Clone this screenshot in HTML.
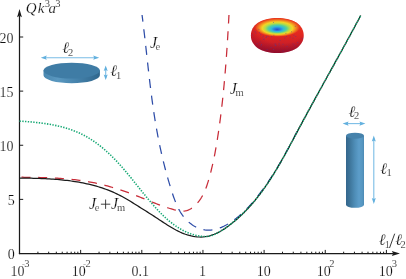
<!DOCTYPE html>
<html><head><meta charset="utf-8">
<style>
html,body{margin:0;padding:0;background:#fff;}
body{width:406px;height:279px;overflow:hidden;}
svg{display:block;will-change:transform;}
text{font-family:"Liberation Serif",serif;fill:#111;stroke:#fff;stroke-width:0.16px;}
.i{font-style:italic;}
.s{font-size:10.5px;}
</style></head><body>
<svg width="406" height="279" viewBox="0 0 406 279">
<defs><filter id="idf" filterUnits="userSpaceOnUse" x="0" y="0" width="406" height="279"><feOffset dx="0" dy="0"/></filter>
<linearGradient id="cyl" x1="0" x2="1" y1="0" y2="0">
<stop offset="0" stop-color="#33658c"/><stop offset="0.2" stop-color="#3d7499"/><stop offset="0.5" stop-color="#4f8eb8"/><stop offset="0.72" stop-color="#5c9dc9"/><stop offset="0.9" stop-color="#5797c2"/><stop offset="1" stop-color="#4c8ab4"/>
</linearGradient>
<linearGradient id="dsk" x1="0" x2="1" y1="0" y2="0">
<stop offset="0" stop-color="#4a88b0"/><stop offset="0.25" stop-color="#5a98c0"/><stop offset="0.6" stop-color="#4582ab"/><stop offset="1" stop-color="#2f668c"/>
</linearGradient>
<radialGradient id="tor" cx="0.5" cy="0.5" r="0.5" fx="0.49" fy="0.62">
<stop offset="0" stop-color="#2a4ec4"/><stop offset="0.12" stop-color="#2a78dc"/><stop offset="0.26" stop-color="#30b8dc"/><stop offset="0.4" stop-color="#58d098"/><stop offset="0.53" stop-color="#b4dc48"/><stop offset="0.66" stop-color="#f4d424"/><stop offset="0.8" stop-color="#f28a20"/><stop offset="0.92" stop-color="#ea4a1e"/><stop offset="1" stop-color="#e6301f" stop-opacity="0"/>
</radialGradient>
<linearGradient id="torb" x1="0" x2="0" y1="0" y2="1">
<stop offset="0" stop-color="#ea3a1e"/><stop offset="0.45" stop-color="#e32820"/><stop offset="0.7" stop-color="#cf2026"/><stop offset="0.9" stop-color="#b01a2a"/><stop offset="1" stop-color="#9c162a"/>
</linearGradient>
<radialGradient id="tors" cx="0.58" cy="0.3" r="0.78">
<stop offset="0.55" stop-color="#800030" stop-opacity="0"/><stop offset="1" stop-color="#800030" stop-opacity="0.55"/>
</radialGradient>
</defs>
<rect width="406" height="279" fill="#fff"/>
<!-- axes -->
<path d="M19.5 254.1 V16" stroke="#1a1a1a" stroke-width="1.25" fill="none"/>
<path d="M18.9 253.5 H393" stroke="#1a1a1a" stroke-width="1.25" fill="none"/>
<path d="M19.5 9 l2.4 8.3 l-2.4 -1.5 l-2.4 1.5 z" fill="#1a1a1a"/>
<path d="M400 253.5 l-8.2 -2.4 l1.4 2.4 l-1.4 2.4 z" fill="#1a1a1a"/>
<path d="M37.91 253.5 v-1.8 M48.68 253.5 v-1.8 M56.32 253.5 v-1.8 M62.24 253.5 v-1.8 M67.08 253.5 v-1.8 M71.18 253.5 v-1.8 M74.72 253.5 v-1.8 M77.85 253.5 v-1.8 M99.06 253.5 v-1.8 M109.83 253.5 v-1.8 M117.47 253.5 v-1.8 M123.39 253.5 v-1.8 M128.23 253.5 v-1.8 M132.33 253.5 v-1.8 M135.87 253.5 v-1.8 M139.00 253.5 v-1.8 M160.21 253.5 v-1.8 M170.98 253.5 v-1.8 M178.62 253.5 v-1.8 M184.54 253.5 v-1.8 M189.38 253.5 v-1.8 M193.48 253.5 v-1.8 M197.02 253.5 v-1.8 M200.15 253.5 v-1.8 M221.36 253.5 v-1.8 M232.13 253.5 v-1.8 M239.77 253.5 v-1.8 M245.69 253.5 v-1.8 M250.53 253.5 v-1.8 M254.63 253.5 v-1.8 M258.17 253.5 v-1.8 M261.30 253.5 v-1.8 M282.51 253.5 v-1.8 M293.28 253.5 v-1.8 M300.92 253.5 v-1.8 M306.84 253.5 v-1.8 M311.68 253.5 v-1.8 M315.78 253.5 v-1.8 M319.32 253.5 v-1.8 M322.45 253.5 v-1.8 M343.66 253.5 v-1.8 M354.43 253.5 v-1.8 M362.07 253.5 v-1.8 M367.99 253.5 v-1.8 M372.83 253.5 v-1.8 M376.93 253.5 v-1.8 M380.47 253.5 v-1.8 M383.60 253.5 v-1.8 M80.65 253.5 v-3.6 M141.80 253.5 v-3.6 M202.95 253.5 v-3.6 M264.10 253.5 v-3.6 M325.25 253.5 v-3.6 M386.40 253.5 v-3.6 M19.5 199.38 h3.7 M19.5 145.25 h3.7 M19.5 91.12 h3.7 M19.5 37.00 h3.7" stroke="#1a1a1a" stroke-width="1" fill="none"/>
<!-- curves -->
<path d="M142.06 14.98 L142.26 16.55 L142.46 18.11 L142.65 19.67 L142.85 21.24 L143.04 22.80 L143.23 24.36 L143.41 25.92 L143.60 27.48 L143.79 29.04 L143.97 30.60 L144.15 32.16 L144.34 33.72 L144.52 35.28 L144.70 36.84 L144.87 38.40 L145.05 39.96 L145.23 41.52 L145.41 43.08 L145.58 44.64 L145.76 46.20 L145.93 47.76 L146.11 49.32 L146.28 50.88 L146.45 52.44 L146.63 54.01 L146.80 55.57 L146.97 57.13 L147.15 58.69 L147.32 60.25 L147.49 61.82 L147.67 63.38 L147.84 64.94 L148.02 66.50 L148.19 68.07 L148.37 69.63 L148.55 71.19 L148.72 72.76 L148.90 74.32 L149.08 75.89 L149.27 77.45 L149.45 79.01 L149.63 80.58 L149.82 82.14 L150.00 83.70 L150.19 85.27 L150.38 86.83 L150.58 88.39 L150.77 89.95 L150.97 91.52 L151.17 93.08 L151.37 94.64 L151.57 96.20 L151.77 97.76 L151.98 99.32 L152.19 100.88 L152.41 102.44 L152.62 104.00 L152.84 105.56 L153.06 107.12 L153.29 108.67 L153.52 110.23 L153.75 111.79 L153.98 113.34 L154.22 114.90 L154.46 116.45 L154.71 118.01 L154.96 119.56 L155.21 121.11 L155.47 122.66 L155.73 124.21 L155.99 125.76 L156.26 127.31 L156.53 128.85 L156.81 130.40 L157.09 131.95 L157.38 133.49 L157.67 135.04 L157.96 136.58 L158.26 138.12 L158.56 139.66 L158.87 141.20 L159.18 142.74 L159.49 144.28 L159.82 145.82 L160.14 147.35 L160.47 148.89 L160.81 150.42 L161.14 151.96 L161.49 153.49 L161.84 155.02 L162.19 156.55 L162.55 158.08 L162.92 159.61 L163.28 161.13 L163.66 162.66 L164.04 164.18 L164.42 165.71 L164.81 167.23 L165.21 168.75 L165.61 170.27 L166.01 171.79 L166.43 173.31 L166.84 174.83 L167.26 176.34 L167.69 177.86 L168.13 179.37 L168.56 180.88 L169.01 182.39 L169.46 183.90 L169.92 185.41 L170.38 186.92 L170.85 188.43 L171.32 189.93 L171.80 191.43 L172.29 192.94 L172.78 194.44 L173.28 195.93 L173.80 197.43 L174.33 198.91 L174.88 200.39 L175.45 201.85 L176.04 203.31 L176.65 204.75 L177.30 206.18 L177.97 207.59 L178.68 208.99 L179.43 210.36 L180.21 211.71 L181.03 213.05 L181.90 214.35 L182.81 215.63 L183.77 216.89 L184.78 218.11 L185.84 219.30 L186.94 220.45 L188.09 221.55 L189.28 222.60 L190.51 223.61 L191.79 224.55 L193.10 225.43 L194.45 226.25 L195.84 227.00 L197.26 227.67 L198.71 228.26 L200.19 228.78 L201.69 229.22 L203.21 229.58 L204.74 229.86 L206.28 230.05 L207.83 230.16 L209.37 230.17 L210.91 230.10 L212.45 229.94 L213.97 229.69 L215.49 229.36 L216.99 228.95 L218.48 228.48 L219.96 227.94 L221.42 227.34 L222.86 226.69 L224.29 226.00 L225.70 225.26 L227.09 224.49 L228.45 223.69 L229.80 222.86 L231.13 222.01 L232.44 221.12 L233.73 220.22 L235.00 219.29 L236.25 218.34 L237.48 217.36 L238.70 216.36 L239.89 215.35 L241.08 214.31 L242.24 213.25 L243.39 212.18 L244.53 211.09 L245.65 209.98 L246.75 208.86 L247.85 207.72 L248.92 206.57 L249.99 205.41 L251.04 204.23 L252.08 203.04 L253.11 201.85 L254.13 200.64 L255.14 199.42 L256.13 198.20 L257.12 196.97 L258.10 195.73 L259.07 194.49 L260.02 193.24 L260.98 191.99 L261.92 190.73 L262.85 189.46 L263.78 188.20 L264.69 186.92 L265.60 185.64 L266.50 184.36 L267.40 183.07 L268.28 181.77 L269.16 180.47 L270.03 179.17 L270.90 177.86 L271.75 176.55 L272.60 175.23 L273.45 173.91 L274.28 172.58 L275.12 171.25 L275.94 169.92 L276.76 168.58 L277.57 167.24 L278.38 165.90 L279.18 164.55 L279.98 163.19 L280.77 161.84 L281.56 160.48 L282.34 159.12 L283.12 157.75 L283.90 156.39 L284.66 155.02 L285.43 153.64 L286.19 152.27 L286.95 150.89 L287.70 149.51 L288.45 148.12 L289.20 146.74 L289.94 145.35 L290.68 143.96 L291.42 142.57 L292.15 141.17 L292.89 139.78 L293.62 138.38 L294.34 136.98 L295.07 135.58 L295.79 134.17 L296.52 132.77 L297.24 131.36 L297.96 129.96" stroke="#2e4da8" stroke-width="1.25" stroke-dasharray="9 7.7" stroke-dashoffset="2.3" fill="none"/>
<path d="M19.50 177.21 L21.08 177.22 L22.66 177.24 L24.24 177.26 L25.82 177.27 L27.40 177.29 L28.98 177.31 L30.56 177.33 L32.14 177.36 L33.73 177.38 L35.31 177.41 L36.89 177.44 L38.47 177.48 L40.06 177.51 L41.64 177.55 L43.22 177.60 L44.81 177.65 L46.39 177.70 L47.97 177.76 L49.55 177.82 L51.14 177.89 L52.72 177.96 L54.30 178.04 L55.88 178.12 L57.46 178.21 L59.04 178.31 L60.62 178.41 L62.19 178.53 L63.77 178.64 L65.35 178.77 L66.92 178.90 L68.50 179.05 L70.07 179.20 L71.64 179.36 L73.21 179.52 L74.78 179.70 L76.35 179.89 L77.92 180.09 L79.48 180.29 L81.05 180.51 L82.61 180.74 L84.17 180.98 L85.73 181.23 L87.29 181.49 L88.84 181.76 L90.39 182.05 L91.95 182.34 L93.50 182.65 L95.04 182.97 L96.59 183.30 L98.13 183.65 L99.67 184.00 L101.21 184.37 L102.75 184.74 L104.28 185.13 L105.82 185.53 L107.35 185.94 L108.87 186.36 L110.40 186.79 L111.92 187.23 L113.44 187.67 L114.96 188.13 L116.47 188.60 L117.98 189.08 L119.49 189.56 L120.99 190.06 L122.50 190.56 L124.00 191.08 L125.49 191.60 L126.98 192.13 L128.47 192.66 L129.96 193.21 L131.44 193.76 L132.92 194.32 L134.40 194.89 L135.87 195.46 L137.34 196.05 L138.81 196.63 L140.27 197.22 L141.74 197.82 L143.20 198.42 L144.66 199.01 L146.12 199.61 L147.59 200.21 L149.05 200.81 L150.52 201.41 L151.98 202.00 L153.45 202.58 L154.92 203.17 L156.40 203.74 L157.88 204.31 L159.36 204.87 L160.85 205.43 L162.34 205.97 L163.84 206.50 L165.34 207.02 L166.85 207.53 L168.37 208.02 L169.89 208.50 L171.43 208.96 L172.97 209.40 L174.52 209.83 L176.07 210.21 L177.63 210.54 L179.17 210.81 L180.71 210.99 L182.24 211.08 L183.75 211.06 L185.24 210.90 L186.70 210.61 L188.14 210.16 L189.54 209.55 L190.90 208.79 L192.22 207.90 L193.49 206.92 L194.71 205.86 L195.86 204.75 L196.95 203.60 L197.99 202.41 L198.97 201.18 L199.89 199.91 L200.77 198.61 L201.60 197.27 L202.38 195.90 L203.12 194.51 L203.82 193.09 L204.49 191.65 L205.11 190.19 L205.71 188.71 L206.28 187.21 L206.82 185.70 L207.33 184.17 L207.82 182.64 L208.30 181.10 L208.75 179.55 L209.19 178.01 L209.62 176.46 L210.04 174.91 L210.45 173.36 L210.85 171.81 L211.24 170.27 L211.61 168.72 L211.98 167.17 L212.34 165.63 L212.70 164.08 L213.04 162.53 L213.37 160.99 L213.70 159.44 L214.02 157.90 L214.33 156.35 L214.64 154.80 L214.94 153.26 L215.23 151.71 L215.51 150.16 L215.79 148.61 L216.07 147.06 L216.34 145.51 L216.60 143.96 L216.86 142.41 L217.11 140.86 L217.36 139.31 L217.60 137.76 L217.84 136.20 L218.08 134.65 L218.32 133.09 L218.55 131.53 L218.77 129.97 L219.00 128.42 L219.22 126.85 L219.44 125.29 L219.65 123.73 L219.86 122.17 L220.07 120.60 L220.28 119.04 L220.48 117.47 L220.68 115.91 L220.88 114.34 L221.07 112.77 L221.26 111.20 L221.45 109.63 L221.64 108.06 L221.82 106.49 L222.00 104.92 L222.18 103.35 L222.35 101.77 L222.52 100.20 L222.69 98.62 L222.86 97.05 L223.03 95.47 L223.19 93.90 L223.35 92.32 L223.51 90.75 L223.66 89.17 L223.82 87.59 L223.97 86.01 L224.12 84.44 L224.26 82.86 L224.41 81.28 L224.55 79.70 L224.69 78.12 L224.83 76.54 L224.96 74.96 L225.10 73.38 L225.23 71.80 L225.36 70.22 L225.49 68.64 L225.61 67.06 L225.74 65.48 L225.86 63.90 L225.98 62.32 L226.10 60.74 L226.22 59.16 L226.33 57.58 L226.45 56.00 L226.56 54.42 L226.67 52.84 L226.78 51.26 L226.89 49.68 L227.00 48.10 L227.10 46.52 L227.21 44.94 L227.31 43.36 L227.41 41.78 L227.51 40.21 L227.61 38.63 L227.71 37.05 L227.80 35.47 L227.90 33.90 L227.99 32.32 L228.09 30.75 L228.18 29.17 L228.27 27.60 L228.36 26.02 L228.45 24.45 L228.54 22.88 L228.63 21.31 L228.71 19.73 L228.80 18.16 L228.88 16.59 L228.97 15.02" stroke="#c82c38" stroke-width="1.25" stroke-dasharray="9 7.7" stroke-dashoffset="-2" fill="none"/>
<path d="M19.54 178.03 L21.50 178.06 L23.46 178.09 L25.43 178.12 L27.41 178.15 L29.38 178.19 L31.36 178.23 L33.34 178.28 L35.33 178.33 L37.32 178.39 L39.30 178.46 L41.30 178.53 L43.29 178.62 L45.28 178.71 L47.28 178.81 L49.27 178.92 L51.26 179.05 L53.26 179.18 L55.25 179.33 L57.25 179.49 L59.24 179.66 L61.23 179.84 L63.21 180.04 L65.20 180.26 L67.18 180.49 L69.16 180.73 L71.14 181.00 L73.11 181.28 L75.08 181.57 L77.05 181.89 L79.01 182.22 L80.97 182.58 L82.92 182.95 L84.86 183.35 L86.80 183.77 L88.73 184.21 L90.66 184.67 L92.58 185.15 L94.49 185.66 L96.40 186.19 L98.29 186.75 L100.18 187.34 L102.06 187.95 L103.94 188.58 L105.80 189.25 L107.65 189.94 L109.49 190.66 L111.33 191.41 L113.15 192.19 L114.96 192.99 L116.76 193.84 L118.55 194.71 L120.33 195.61 L122.10 196.54 L123.85 197.51 L125.60 198.49 L127.33 199.50 L129.06 200.52 L130.77 201.56 L132.48 202.61 L134.18 203.67 L135.88 204.73 L137.56 205.79 L139.24 206.86 L140.92 207.91 L142.59 208.97 L144.26 210.01 L145.93 211.06 L147.59 212.11 L149.25 213.16 L150.91 214.22 L152.57 215.28 L154.23 216.35 L155.89 217.44 L157.56 218.54 L159.23 219.65 L160.90 220.76 L162.58 221.87 L164.26 222.98 L165.95 224.08 L167.66 225.17 L169.37 226.23 L171.10 227.28 L172.84 228.29 L174.59 229.28 L176.36 230.23 L178.14 231.13 L179.95 231.99 L181.77 232.80 L183.62 233.55 L185.48 234.25 L187.37 234.87 L189.29 235.43 L191.22 235.92 L193.18 236.32 L195.14 236.64 L197.11 236.87 L199.07 237.00 L201.03 237.02 L202.97 236.94 L204.90 236.74 L206.81 236.44 L208.69 236.03 L210.56 235.52 L212.40 234.92 L214.22 234.23 L216.03 233.46 L217.81 232.62 L219.57 231.71 L221.30 230.73 L223.02 229.70 L224.71 228.61 L226.39 227.47 L228.04 226.30 L229.66 225.09 L231.27 223.85 L232.85 222.59 L234.41 221.30 L235.94 220.00 L237.45 218.68 L238.95 217.34 L240.42 215.98 L241.87 214.61 L243.29 213.22 L244.70 211.81 L246.09 210.39 L247.46 208.95 L248.81 207.49 L250.14 206.02 L251.46 204.54 L252.75 203.04 L254.03 201.53 L255.30 200.00 L256.54 198.47 L257.77 196.92 L258.99 195.35 L260.18 193.78 L261.37 192.20 L262.54 190.60 L263.69 189.00 L264.84 187.38 L265.97 185.76 L267.08 184.12 L268.19 182.48 L269.28 180.83 L270.36 179.17 L271.43 177.50 L272.49 175.82 L273.54 174.14 L274.58 172.45 L275.62 170.75 L276.64 169.04 L277.65 167.33 L278.66 165.62 L279.66 163.90 L280.65 162.17 L281.63 160.44 L282.61 158.71 L283.59 156.97 L284.55 155.23 L285.52 153.48 L286.48 151.73 L287.43 149.98 L288.38 148.22 L289.33 146.47 L290.28 144.71 L291.22 142.95 L292.16 141.19 L293.10 139.43 L294.04 137.67 L294.98 135.91 L295.91 134.14 L296.85 132.38 L297.79 130.62 L298.73 128.86 L299.67 127.11 L300.62 125.35 L301.56 123.60 L302.51 121.84 L303.45 120.09 L304.40 118.34 L305.35 116.59 L306.30 114.84 L307.25 113.09 L308.20 111.35 L309.15 109.60 L310.10 107.86 L311.06 106.11 L312.01 104.37 L312.97 102.62 L313.92 100.88 L314.88 99.14 L315.84 97.40 L316.80 95.66 L317.75 93.92 L318.71 92.18 L319.67 90.44 L320.63 88.70 L321.59 86.96 L322.55 85.23 L323.51 83.49 L324.47 81.75 L325.43 80.01 L326.40 78.28 L327.36 76.54 L328.32 74.80 L329.28 73.07 L330.24 71.33 L331.20 69.59 L332.16 67.85 L333.12 66.12 L334.08 64.38 L335.04 62.64 L336.00 60.90 L336.96 59.16 L337.92 57.42 L338.88 55.69 L339.84 53.95 L340.80 52.20 L341.76 50.46 L342.72 48.72 L343.67 46.98 L344.63 45.24 L345.58 43.49 L346.54 41.75 L347.49 40.00 L348.45 38.26 L349.40 36.51 L350.35 34.76 L351.30 33.01 L352.25 31.26 L353.20 29.51 L354.15 27.76 L355.09 26.00 L356.04 24.25 L356.98 22.49 L357.92 20.73 L358.87 18.97 L359.81 17.21 L360.74 15.45" stroke="#1a1a1a" stroke-width="1.25" fill="none"/>
<path d="M19.53 121.10 L21.59 121.23 L23.66 121.37 L25.74 121.52 L27.83 121.68 L29.92 121.85 L32.01 122.04 L34.11 122.24 L36.22 122.46 L38.32 122.69 L40.43 122.94 L42.53 123.22 L44.63 123.51 L46.74 123.83 L48.83 124.17 L50.93 124.53 L53.01 124.93 L55.10 125.34 L57.17 125.79 L59.23 126.27 L61.29 126.78 L63.33 127.32 L65.37 127.89 L67.39 128.50 L69.40 129.15 L71.39 129.83 L73.37 130.55 L75.33 131.32 L77.27 132.12 L79.19 132.96 L81.10 133.85 L82.98 134.79 L84.84 135.77 L86.68 136.79 L88.50 137.85 L90.30 138.95 L92.08 140.09 L93.83 141.27 L95.56 142.48 L97.27 143.73 L98.96 145.00 L100.63 146.31 L102.27 147.64 L103.90 149.00 L105.50 150.38 L107.07 151.79 L108.63 153.22 L110.16 154.66 L111.67 156.13 L113.16 157.61 L114.63 159.11 L116.09 160.63 L117.53 162.16 L118.95 163.71 L120.35 165.26 L121.75 166.83 L123.13 168.42 L124.49 170.01 L125.85 171.61 L127.20 173.22 L128.54 174.84 L129.88 176.47 L131.21 178.10 L132.53 179.74 L133.86 181.38 L135.17 183.03 L136.49 184.67 L137.81 186.32 L139.13 187.97 L140.45 189.62 L141.78 191.27 L143.10 192.92 L144.44 194.56 L145.78 196.20 L147.13 197.84 L148.49 199.47 L149.86 201.10 L151.24 202.71 L152.63 204.32 L154.03 205.92 L155.45 207.51 L156.89 209.09 L158.34 210.65 L159.81 212.19 L161.30 213.70 L162.81 215.20 L164.34 216.66 L165.89 218.10 L167.46 219.51 L169.06 220.88 L170.68 222.21 L172.33 223.50 L174.00 224.75 L175.70 225.96 L177.44 227.12 L179.20 228.22 L180.99 229.27 L182.81 230.27 L184.67 231.21 L186.56 232.09 L188.48 232.90 L190.44 233.65 L192.44 234.33 L194.48 234.94 L196.55 235.47 L198.66 235.91 L200.78 236.25 L202.90 236.46 L205.02 236.53 L207.13 236.44 L209.20 236.17 L211.23 235.71 L213.21 235.05 L215.15 234.22 L217.04 233.26 L218.89 232.21 L220.72 231.12 L222.51 229.99 L224.28 228.82 L226.02 227.62 L227.73 226.39 L229.42 225.13 L231.09 223.84 L232.74 222.53 L234.36 221.19 L235.97 219.83 L237.56 218.44 L239.13 217.03 L240.67 215.60 L242.20 214.15 L243.71 212.67 L245.20 211.18 L246.67 209.67 L248.12 208.13 L249.56 206.58 L250.97 205.02 L252.37 203.43 L253.74 201.83 L255.10 200.22 L256.44 198.59 L257.76 196.94 L259.06 195.28 L260.35 193.61 L261.61 191.92 L262.86 190.23 L264.10 188.52 L265.31 186.80 L266.51 185.07 L267.70 183.33 L268.87 181.58 L270.02 179.83 L271.16 178.06 L272.29 176.28 L273.41 174.50 L274.51 172.70 L275.61 170.90 L276.69 169.10 L277.76 167.28 L278.83 165.46 L279.88 163.64 L280.93 161.80 L281.96 159.97 L283.00 158.12 L284.02 156.28 L285.04 154.43 L286.05 152.57 L287.06 150.72 L288.06 148.86 L289.06 147.00 L290.06 145.13 L291.05 143.27 L292.04 141.40 L293.03 139.53 L294.02 137.66 L295.01 135.80 L296.00 133.93 L296.99 132.06 L297.98 130.19 L298.98 128.33 L299.97 126.47 L300.97 124.60 L301.97 122.74 L302.97 120.89 L303.97 119.03 L304.98 117.17 L305.98 115.32 L306.99 113.46 L308.00 111.61 L309.01 109.76 L310.02 107.91 L311.03 106.06 L312.05 104.21 L313.06 102.36 L314.08 100.51 L315.10 98.66 L316.11 96.82 L317.13 94.97 L318.15 93.13 L319.17 91.28 L320.19 89.44 L321.21 87.60 L322.24 85.75 L323.26 83.91 L324.28 82.07 L325.30 80.23 L326.33 78.38 L327.35 76.54 L328.37 74.70 L329.40 72.86 L330.42 71.01 L331.44 69.17 L332.46 67.33 L333.49 65.49 L334.51 63.64 L335.53 61.80 L336.55 59.96 L337.57 58.11 L338.59 56.27 L339.61 54.42 L340.63 52.58 L341.65 50.73 L342.66 48.88 L343.68 47.03 L344.69 45.18 L345.71 43.33 L346.72 41.48 L347.73 39.63 L348.74 37.78 L349.75 35.93 L350.76 34.07 L351.76 32.22 L352.76 30.36 L353.77 28.50 L354.77 26.64 L355.77 24.78 L356.76 22.92 L357.76 21.05 L358.75 19.19 L359.74 17.32 L360.73 15.45" stroke="#16a874" stroke-width="1.6" stroke-dasharray="1.35 1.41" fill="none"/>
<!-- disk -->
<path d="M43.5 70.6 V75.3 A28.2 7.9 0 0 0 99.9 75.3 V70.6 Z" fill="url(#dsk)"/>
<ellipse cx="71.7" cy="70.6" rx="28.2" ry="7.9" fill="#3f7ca5"/>
<path d="M44 57.7 H96" stroke="#7abde6" stroke-width="1.1"/>
<path d="M40.8 57.7 l6 -2.1 l-1 2.1 l1 2.1 z M99.2 57.7 l-6 -2.1 l1 2.1 l-1 2.1 z" fill="#62b0de"/>
<path d="M105.7 68 V78" stroke="#7abde6" stroke-width="1.1"/>
<path d="M105.7 65.4 l-2 5.6 l2 -1 l2 1 z M105.7 80.1 l-2 -5.6 l2 1 l2 -1 z" fill="#62b0de"/>
<!-- cylinder -->
<path d="M346 135.7 V204.8 A9 3 0 0 0 364 204.8 V135.7 Z" fill="url(#cyl)"/>
<ellipse cx="355" cy="135.7" rx="9" ry="3" fill="#4682ab"/>
<path d="M345 123.6 H363" stroke="#7abde6" stroke-width="1.1"/>
<path d="M342.6 123.6 l6 -2.1 l-1 2.1 l1 2.1 z M365.4 123.6 l-6 -2.1 l1 2.1 l-1 2.1 z" fill="#62b0de"/>
<path d="M373.8 138 V202" stroke="#7abde6" stroke-width="1.1"/>
<path d="M373.8 135.4 l-2 6 l2 -1 l2 1 z M373.8 204.1 l-2 -6 l2 1 l2 -1 z" fill="#62b0de"/>
<!-- torus -->
<path d="M250.90 35.50 C250.90 25.06 260.93 18.10 277.30 18.10 C293.67 18.10 303.70 25.06 303.70 35.50 C303.70 45.71 293.67 53.10 277.30 53.10 C260.93 53.10 250.90 45.71 250.90 35.50 Z" fill="url(#torb)"/>
<path d="M250.90 35.50 C250.90 25.06 260.93 18.10 277.30 18.10 C293.67 18.10 303.70 25.06 303.70 35.50 C303.70 45.71 293.67 53.10 277.30 53.10 C260.93 53.10 250.90 45.71 250.90 35.50 Z" fill="url(#tors)"/>
<ellipse cx="277.6" cy="27.4" rx="23" ry="9.4" fill="url(#tor)"/>
<g fill="#4a3a9a" fill-opacity="0.7"><rect x="274.4" y="43.7" width="0.8" height="0.8"/><rect x="301.9" y="38.2" width="0.8" height="0.8"/><rect x="265.7" y="37.0" width="0.8" height="0.8"/><rect x="286.6" y="46.1" width="0.8" height="0.8"/><rect x="266.7" y="49.3" width="0.8" height="0.8"/><rect x="262.9" y="35.6" width="0.8" height="0.8"/><rect x="282.6" y="50.5" width="0.8" height="0.8"/><rect x="263.7" y="38.5" width="0.8" height="0.8"/><rect x="278.7" y="44.5" width="0.8" height="0.8"/><rect x="286.1" y="36.0" width="0.8" height="0.8"/><rect x="262.4" y="36.7" width="0.8" height="0.8"/><rect x="271.0" y="36.3" width="0.8" height="0.8"/><rect x="270.7" y="47.1" width="0.8" height="0.8"/><rect x="291.2" y="31.4" width="0.8" height="0.8"/><rect x="285.5" y="33.1" width="0.8" height="0.8"/><rect x="275.4" y="43.6" width="0.8" height="0.8"/><rect x="273.1" y="49.2" width="0.8" height="0.8"/><rect x="261.2" y="44.2" width="0.8" height="0.8"/><rect x="273.5" y="34.8" width="0.8" height="0.8"/><rect x="284.4" y="37.7" width="0.8" height="0.8"/><rect x="273.2" y="22.0" width="0.8" height="0.8"/><rect x="256.7" y="43.3" width="0.8" height="0.8"/><rect x="278.7" y="42.9" width="0.8" height="0.8"/><rect x="254.7" y="31.3" width="0.8" height="0.8"/><rect x="295.3" y="36.2" width="0.8" height="0.8"/><rect x="294.9" y="25.9" width="0.8" height="0.8"/><rect x="267.7" y="35.9" width="0.8" height="0.8"/><rect x="289.8" y="36.6" width="0.8" height="0.8"/><rect x="259.0" y="32.3" width="0.8" height="0.8"/><rect x="260.4" y="34.4" width="0.8" height="0.8"/><rect x="274.9" y="45.2" width="0.8" height="0.8"/><rect x="292.6" y="37.7" width="0.8" height="0.8"/><rect x="275.5" y="45.3" width="0.8" height="0.8"/><rect x="297.3" y="42.2" width="0.8" height="0.8"/><rect x="266.1" y="36.3" width="0.8" height="0.8"/><rect x="292.6" y="43.5" width="0.8" height="0.8"/><rect x="259.5" y="41.8" width="0.8" height="0.8"/><rect x="255.5" y="32.7" width="0.8" height="0.8"/><rect x="293.5" y="34.8" width="0.8" height="0.8"/><rect x="282.6" y="43.8" width="0.8" height="0.8"/><rect x="293.9" y="44.8" width="0.8" height="0.8"/><rect x="252.4" y="34.6" width="0.8" height="0.8"/><rect x="279.6" y="40.2" width="0.8" height="0.8"/><rect x="258.5" y="28.9" width="0.8" height="0.8"/><rect x="263.4" y="39.2" width="0.8" height="0.8"/><rect x="260.6" y="45.5" width="0.8" height="0.8"/></g>
<!-- labels -->
<g filter="url(#idf)">
<text y="13" font-size="15" class="i"><tspan x="25.8">Q</tspan><tspan x="37.8">k</tspan><tspan x="44.7" dy="-6.1" class="s" font-style="normal">3</tspan><tspan x="48.6" dy="6.1">a</tspan><tspan x="55.3" dy="-6.1" class="s" font-style="normal">3</tspan></text>
<text x="14.8" y="259.0" font-size="14" text-anchor="end">0</text>
<text x="14.8" y="204.9" font-size="14" text-anchor="end">5</text>
<text x="13.5" y="150.8" font-size="14" text-anchor="end">10</text>
<text x="13.5" y="96.6" font-size="14" text-anchor="end">15</text>
<text x="13.5" y="42.5" font-size="14" text-anchor="end">20</text>
<text y="275.8" font-size="14"><tspan x="10.6">10</tspan><tspan x="22" dy="-8.8" font-size="8">-</tspan><tspan x="24.2" class="s">3</tspan></text>
<text y="275.8" font-size="14"><tspan x="71.8">10</tspan><tspan x="83.2" dy="-8.8" font-size="8">-</tspan><tspan x="85.6" class="s">2</tspan></text>
<text x="140.3" y="275.8" font-size="14" text-anchor="middle">0.1</text>
<text x="202.5" y="275.8" font-size="14" text-anchor="middle">1</text>
<text x="263.8" y="275.8" font-size="14" text-anchor="middle">10</text>
<text y="275.8" font-size="14"><tspan x="316.7">10</tspan><tspan x="329.2" dy="-8.8" class="s">2</tspan></text>
<text y="275.8" font-size="14"><tspan x="378.8">10</tspan><tspan x="391.7" dy="-8.8" class="s">3</tspan></text>
<path d="M389.5 248 L394.7 233.7" stroke="#222" stroke-width="0.9"/>
<text y="244.6" font-size="16" class="i"><tspan x="378.8">ℓ</tspan><tspan x="384.8" dy="3.2" class="s" font-style="normal">1</tspan><tspan x="395.3" dy="-3.2">ℓ</tspan><tspan x="400.6" dy="3.2" class="s" font-style="normal">2</tspan></text>
<text y="47.6" font-size="16" class="i"><tspan x="150">J</tspan><tspan x="155.6" dy="2.6" class="s" font-style="normal">e</tspan></text>
<text y="93.6" font-size="16" class="i"><tspan x="229.8">J</tspan><tspan x="235.6" dy="2.4" class="s" font-style="normal">m</tspan></text>
<path d="M100.9 204.2 H110.3 M105.6 199.5 V208.9" stroke="#222" stroke-width="0.85" fill="none"/>
<text y="208.5" font-size="16" class="i"><tspan x="89">J</tspan><tspan x="94.8" dy="2.2" class="s" font-style="normal">e</tspan><tspan x="111" dy="-2.2">J</tspan><tspan x="117" dy="2.2" class="s" font-style="normal">m</tspan></text>
<text y="53.3" font-size="16" class="i"><tspan x="62.2">ℓ</tspan><tspan x="68" dy="2.2" class="s" font-style="normal">2</tspan></text>
<text y="76.3" font-size="16" class="i"><tspan x="110.3">ℓ</tspan><tspan x="116" dy="2.4" class="s" font-style="normal">1</tspan></text>
<text y="116.5" font-size="16" class="i"><tspan x="348.5">ℓ</tspan><tspan x="354" dy="2.2" class="s" font-style="normal">2</tspan></text>
<text y="173.5" font-size="16" class="i"><tspan x="380.3">ℓ</tspan><tspan x="386.5" dy="2.4" class="s" font-style="normal">1</tspan></text>
</g>
</svg>
</body></html>
